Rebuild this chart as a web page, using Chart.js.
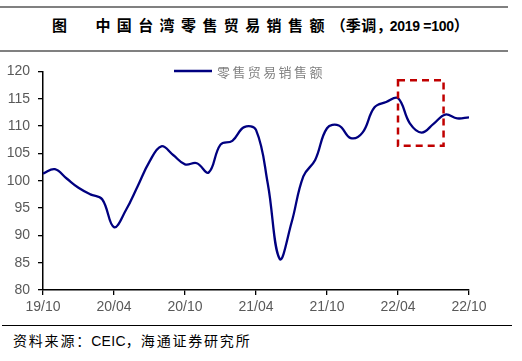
<!DOCTYPE html>
<html>
<head>
<meta charset="utf-8">
<script src="https://cdn.jsdelivr.net/npm/chart.js@4.4.1/dist/chart.umd.min.js"></script>
<style>
  html,body{margin:0;padding:0;background:#fff;}
  body{width:522px;height:361px;position:relative;overflow:hidden;font-family:"Liberation Sans","Noto Sans CJK SC",sans-serif;}
  .rule{position:absolute;left:0;width:508px;height:2px;background:#808080;}
  #title{position:absolute;left:52px;top:15px;font-size:15px;font-weight:bold;color:#000;white-space:nowrap;line-height:20px;}
  #title .cjk{font-family:"Noto Sans CJK SC",sans-serif;letter-spacing:6.4px;}
  #title .lat{font-family:"Liberation Sans",sans-serif;font-size:14px;letter-spacing:-0.3px;}
  .fw{display:inline-block;font-family:"Noto Sans CJK SC",sans-serif;letter-spacing:0;}
  #src-rule{position:absolute;left:2px;top:325px;width:510px;height:1px;background:#000;}
  #source{position:absolute;left:13px;top:330px;font-size:14px;color:#000;white-space:nowrap;line-height:20px;font-family:"Noto Sans CJK SC",sans-serif;letter-spacing:1.8px;}
  #source .lat{font-family:"Liberation Sans",sans-serif;letter-spacing:0.3px;}
  #wrap{position:absolute;left:0;top:55px;width:522px;height:270px;}
</style>
</head>
<body>
<div class="rule" style="top:6px"></div>
<div id="title"><span class="cjk">图</span><span style="display:inline-block;width:22px"></span><span class="cjk">中国台湾零售贸易销售额</span><span class="fw" style="width:15px;text-align:right">（</span><span class="cjk" style="letter-spacing:0.5px">季调</span><span class="fw" style="width:13px;text-align:left">，</span><span class="lat">2019 =100</span><span class="fw" style="width:14px;text-align:left">）</span></div>
<div class="rule" style="top:50px"></div>
<div id="wrap"><canvas id="c" width="522" height="270"></canvas></div>
<div id="src-rule"></div>
<div id="source">资料来源<span class="fw" style="width:15px;text-align:left">：</span><span class="lat">CEIC</span><span class="fw" style="width:15px;text-align:left">，</span>海通证券研究所</div>
<script>
// Datos mensuales 2019/10 - 2022/10
const months = ['19/10','19/11','19/12','20/01','20/02','20/03','20/04','20/05','20/06','20/07','20/08','20/09',
  '20/10','20/11','20/12','21/01','21/02','21/03','21/04','21/05','21/06','21/07','21/08','21/09',
  '21/10','21/11','21/12','22/01','22/02','22/03','22/04','22/05','22/06','22/07','22/08','22/09','22/10'];
const salesIndex = [101.3,102.1,100.4,98.7,97.5,96.6,91.5,94.6,99.0,103.5,106.3,104.7,
  103.0,103.2,101.5,106.6,107.3,109.8,109.3,99.4,85.7,92.3,100.8,103.8,
  109.6,110.1,107.8,108.8,113.4,114.4,115.1,110.5,108.8,110.4,112.1,111.4,111.6];
const xTickLabels = ['19/10','20/04','20/10','21/04','21/10','22/04','22/10'];
const seriesName = '零售贸易销售额';
// recuadro rojo (en unidades de datos)
const highlight = { from: 30, to: 33.85, low: 106.4, high: 118.4 };

const NAVY = '#000080';

const boxPlugin = {
  id: 'box',
  afterDatasetsDraw(chart){
    const {ctx, scales:{x, y}} = chart;
    const x0 = x.getPixelForValue(highlight.from), x1 = x.getPixelForValue(highlight.to);
    const y0 = y.getPixelForValue(highlight.high), y1 = y.getPixelForValue(highlight.low);
    ctx.save();
    ctx.strokeStyle = '#c00000'; ctx.lineWidth = 2.5; ctx.setLineDash([7,5]);
    ctx.strokeRect(x0, y0, x1-x0, y1-y0);
    ctx.restore();
  }
};

const legendPlugin = {
  id: 'miniLegend',
  afterDraw(chart){
    const ctx = chart.ctx;
    ctx.save();
    ctx.strokeStyle = NAVY; ctx.lineWidth = 2.5;
    ctx.beginPath(); ctx.moveTo(174, 16); ctx.lineTo(212, 16); ctx.stroke();
    ctx.fillStyle = '#808080';
    ctx.font = '13px "Noto Sans CJK SC"';
    ctx.textBaseline = 'middle';
    [...seriesName].forEach((ch, i) => ctx.fillText(ch, 217 + i*15.4, 17));
    ctx.restore();
  }
};

new Chart(document.getElementById('c').getContext('2d'), {
  type: 'line',
  data: { datasets: [{
    label: seriesName,
    data: salesIndex.map((v, i) => ({ x: i, y: v })),
    borderColor: NAVY, borderWidth: 2.3, pointRadius: 0, tension: 0.4, fill: false
  }]},
  options: {
    responsive: false, animation: false, maintainAspectRatio: false,
    layout: { padding: { top: 8, right: 53, left: 0, bottom: 0 } },
    plugins: { legend: { display: false }, tooltip: { enabled: false } },
    scales: {
      x: {
        type: 'linear', min: 0, max: 36,
        afterFit: s => { s.height = 35; },
        afterBuildTicks: s => { s.ticks = xTickLabels.map((_, k) => ({ value: k*6 })); },
        ticks: { autoSkip: false, maxRotation: 0, padding: 4, color: '#595959',
          font: { family: 'Liberation Sans', size: 14 },
          callback: (v) => xTickLabels[v/6] },
        grid: { drawOnChartArea: false, drawTicks: true, tickLength: 5, color: '#000', lineWidth: 1.3 },
        border: { display: true, color: '#000', width: 1.5 }
      },
      y: {
        min: 80, max: 120,
        afterFit: s => { s.width = 43; },
        ticks: { stepSize: 5, padding: 8, color: '#595959', font: { family: 'Liberation Sans', size: 14 } },
        grid: { drawOnChartArea: false, drawTicks: true, tickLength: 5, color: '#000', lineWidth: 1.3 },
        border: { display: true, color: '#000', width: 1.5 }
      }
    }
  },
  plugins: [boxPlugin, legendPlugin]
});
</script>
</body>
</html>
